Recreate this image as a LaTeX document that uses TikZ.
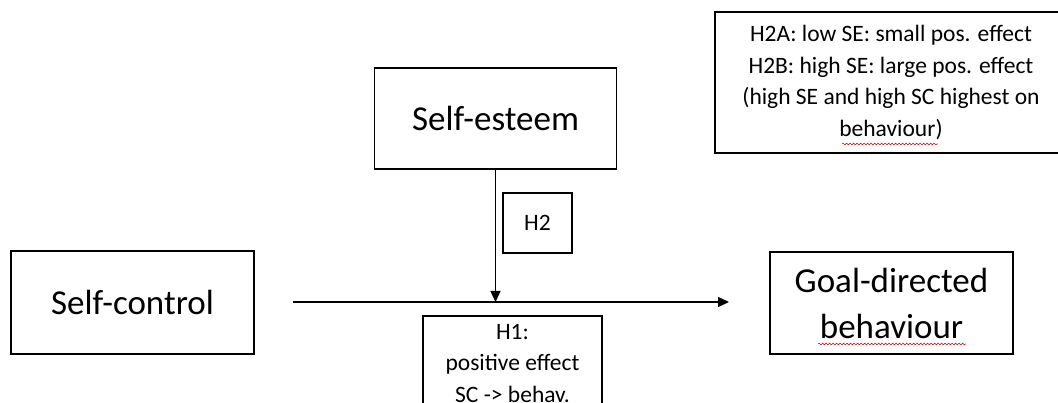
\documentclass[tikz,border=0pt]{standalone}
\usepackage{fontspec}
\setmainfont{Carlito}
\usetikzlibrary{arrows.meta,decorations.pathmorphing}
\tikzset{
  box/.style={draw=black, line width=1.8pt, fill=white, inner sep=0pt, align=center},
  bigtxt/.style={font=\fontsize{35}{46}\selectfont},
  smalltxt/.style={font=\fontsize{23.5}{31.7}\selectfont},
  conn/.style={line width=1.2pt, -{Triangle[length=11pt,width=10pt]}},
  squig/.style={draw=red!80!black, line width=0.5pt, decorate, decoration={snake, amplitude=0.9pt, segment length=3.5pt}}
}
\begin{document}
\begin{tikzpicture}[x=1pt,y=-1pt]
\useasboundingbox (0,0) rectangle (1058,403);
\clip (0,0) rectangle (1058,403);
\fill[white] (0,0) rectangle (1058,403);
% boxes
\node[box, bigtxt, minimum width=243pt, minimum height=103pt] (sc) at (132.5,302.5) {Self-control};
\node[box, bigtxt, minimum width=243pt, minimum height=102pt] (gd) at (891.5,303) {Goal-directed\\behaviour};
\node[box, bigtxt, minimum width=242pt, minimum height=101pt] (se) at (495.5,118.5) {Self-esteem};
\node[box, smalltxt, minimum width=69pt, minimum height=60pt] (h2) at (537.5,223) {H2};
\node[box, smalltxt, minimum width=352pt, minimum height=141pt] (h2a) at (891,82.5) {H2A: low SE: small pos. effect\\H2B: high SE: large pos. effect\\(high SE and high SC highest on\\behaviour)};
\node[box, smalltxt, minimum width=179pt, anchor=north, inner ysep=8pt, text depth=60pt] (h1) at (512.5,315) {H1:\\positive effect\\SC -> behav.};
% connectors
\coordinate (hs) at (293,302);
\coordinate (he) at (729,302);
\coordinate (mid) at (se.south |- hs);
\draw[conn] (hs) -- (he);
\draw[conn] (se.south) -- (mid);
% spell-check squiggles
\draw[squig] (818,344) -- (966,344);
\draw[squig] (842,144) -- (938,144);
\end{tikzpicture}
\end{document}
